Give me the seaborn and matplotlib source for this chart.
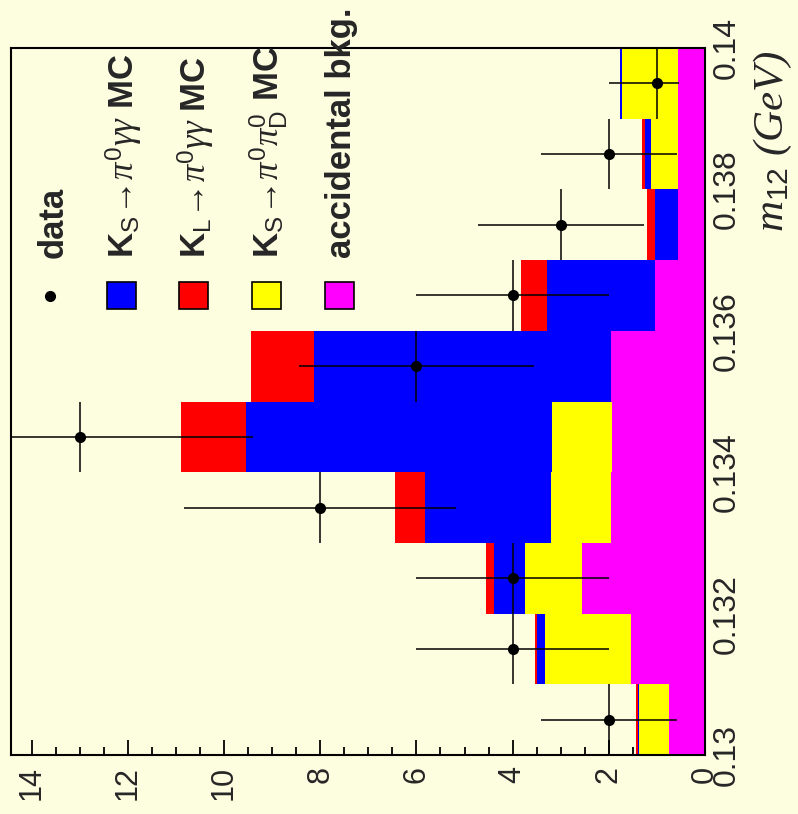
# -*- coding: utf-8 -*-
import numpy as np
import pandas as pd
import matplotlib
matplotlib.use('Agg')
import matplotlib.pyplot as plt
from matplotlib.patches import Rectangle
from matplotlib.ticker import MultipleLocator
import seaborn as sns

sns.set_style('ticks')
plt.rcParams['font.family'] = ['Liberation Sans', 'DejaVu Sans']
plt.rcParams['mathtext.fontset'] = 'custom'
plt.rcParams['mathtext.rm'] = 'Liberation Sans'
plt.rcParams['mathtext.bf'] = 'Liberation Sans:bold'
plt.rcParams['mathtext.it'] = 'Liberation Serif:italic'
plt.rcParams['mathtext.sf'] = 'Liberation Sans'

BG = '#fdfde0'

# m12 bins (GeV)
bin_edges = [0.130, 0.131, 0.132, 0.133, 0.134, 0.135, 0.136, 0.137, 0.138, 0.139, 0.140]
bin_centers = [0.1305, 0.1315, 0.1325, 0.1335, 0.1345, 0.1355, 0.1365, 0.1375, 0.1385, 0.1395]
m12_ticks = [0.130, 0.132, 0.134, 0.136, 0.138, 0.140]
m12_ticklabels = ['0.13', '0.132', '0.134', '0.136', '0.138', '0.14']

# stacked MC components (events per bin)
accidental = [0.74, 1.54, 2.56, 1.95, 1.94, 1.95, 1.05, 0.57, 0.57, 0.56]
ks_dalitz = [0.63, 1.79, 1.18, 1.25, 1.25, 0.00, 0.00, 0.00, 0.56, 1.17]
ks_pgg = [0.03, 0.16, 0.65, 2.63, 6.35, 6.17, 2.24, 0.48, 0.12, 0.04]
kl_pgg = [0.04, 0.04, 0.16, 0.61, 1.36, 1.31, 0.54, 0.16, 0.05, 0.00]

# data with errors
data = [2, 4, 4, 8, 13, 6, 4, 3, 2, 1]
err_lo = [1.41, 2.0, 2.0, 2.83, 3.6, 2.45, 2.0, 1.73, 1.41, 0.45]
err_hi = [1.41, 2.0, 2.0, 2.83, 3.6, 2.45, 2.0, 1.73, 1.41, 1.0]

comp_names = ['KL', 'KS', 'KSD', 'ACC']
comp_colors = {'KL': '#ff0000', 'KS': '#0000ff', 'KSD': '#ffff00', 'ACC': '#ff00ff'}

df = pd.DataFrame({
    'm12': bin_centers * 4,
    'comp': np.repeat(comp_names, len(bin_centers)),
    'n': kl_pgg + ks_pgg + ks_dalitz + accidental,
})

W, H = 798, 814
fig = plt.figure(figsize=(W / 100, H / 100), dpi=100, facecolor=BG)
ax = fig.add_axes([11 / W, 1 - 755 / H, (705 - 11) / W, (755 - 48) / H])
ax.set_facecolor(BG)

sns.histplot(data=df, y='m12', weights='n', hue='comp', hue_order=comp_names,
             multiple='stack', bins=bin_edges, palette=comp_colors,
             alpha=1, linewidth=0, legend=False, ax=ax)

ax.errorbar(data, bin_centers, xerr=[err_lo, err_hi], yerr=0.0005,
            fmt='o', color='black', ms=7, elinewidth=1.1, capsize=0, zorder=5)

ax.set_xlim(14.43, 0)
ax.set_ylim(0.130, 0.140)
ax.set_xlabel('')
ax.set_ylabel('')

ax.xaxis.set_major_locator(MultipleLocator(2))
ax.xaxis.set_minor_locator(MultipleLocator(0.5))
ax.set_yticks(m12_ticks)
ax.set_yticklabels(m12_ticklabels)
ax.yaxis.set_minor_locator(MultipleLocator(0.0005))
ax.yaxis.tick_right()
ax.tick_params(axis='x', which='both', direction='in', top=False, bottom=True,
               labelsize=22, pad=8, labelrotation=90, color='black', width=1.3)
ax.tick_params(axis='x', which='major', length=11)
ax.tick_params(axis='x', which='minor', length=6)
ax.tick_params(axis='y', which='both', direction='in', left=False, right=True,
               labelsize=23, pad=5, labelrotation=90, color='black', width=1.3,
               length=10)
for lab in ax.get_yticklabels():
    lab.set_va('center')
for s in ax.spines.values():
    s.set_color('black')
    s.set_linewidth(1.5)

# axis title
fig.text(773 / W, 1 - 50 / H, r'$m_{12}$ (GeV)', rotation=90, ha='center', va='top',
         fontsize=31, family='Liberation Serif', style='italic')

# legend
leg_x = [50, 121, 193, 266, 339]
leg_labels = ['data',
              r'K$_{\rm S}$$\!\rightarrow\!\pi^{0}\gamma\gamma$ MC',
              r'K$_{\rm L}$$\!\rightarrow\!\pi^{0}\gamma\gamma$ MC',
              r'K$_{\rm S}$$\!\rightarrow\!\pi^{0}\pi^{0}_{\rm D}$ MC',
              'accidental bkg.']
leg_colors = [None, '#0000ff', '#ff0000', '#ffff00', '#ff00ff']
for x, lab, c in zip(leg_x, leg_labels, leg_colors):
    fig.text((x + 3) / W, 1 - 258 / H, lab, rotation=90, ha='center', va='bottom',
             fontsize=25, fontweight='bold')
    if c is None:
        fig.add_artist(plt.Line2D([x / W], [1 - 296 / H], marker='o', color='black',
                                  ms=7, transform=fig.transFigure))
    else:
        fig.add_artist(Rectangle(((x - 14) / W, 1 - 309 / H), 29 / W, 27 / H,
                                 facecolor=c, edgecolor='black', lw=1.2,
                                 transform=fig.transFigure))

fig.savefig('out.png', dpi=100, facecolor=BG)
